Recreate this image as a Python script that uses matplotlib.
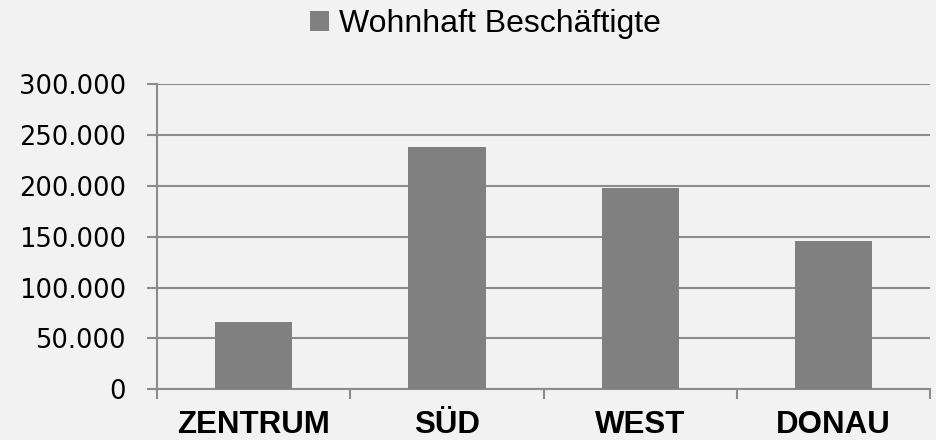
import numpy as np
import matplotlib.pyplot as plt
from matplotlib.ticker import FuncFormatter

# ===== DATEN =====
kategorien = ["ZENTRUM", "SÜD", "WEST", "DONAU"]
beschaeftigte = [66400, 238000, 197800, 145700]
serie = "Wohnhaft Beschäftigte"

bg = "#F2F2F2"
grau = "#808080"
linie = "#8C8C8C"

fig = plt.figure(figsize=(9.37, 4.40), dpi=100, facecolor=bg)
ax = fig.add_axes([0.1676, 0.1152, 0.825, 0.694], facecolor=bg)

x = np.arange(len(kategorien))
ax.bar(x, beschaeftigte, width=0.4, color=grau, zorder=3, label=serie)

ax.set_xlim(-0.5, len(kategorien) - 0.5)
ax.set_ylim(0, 300000)
ax.set_yticks(np.arange(0, 300001, 50000))
ax.yaxis.set_major_formatter(FuncFormatter(lambda v, p: f"{int(v):,}".replace(",", ".")))
ax.grid(axis="y", color=linie, linewidth=1.5, zorder=0)

# Trennstriche zwischen Kategorien, Beschriftung in der Mitte
ax.set_xticks(np.arange(len(kategorien) + 1) - 0.5)
ax.set_xticklabels([])
ax.set_xticks(x, minor=True)
ax.set_xticklabels(kategorien, minor=True, fontsize=22.5, fontweight="bold",
                   family="Liberation Sans")
ax.tick_params(axis="x", which="major", length=7.5, width=1.5, color=linie)
ax.tick_params(axis="x", which="minor", length=0, pad=15)
ax.tick_params(axis="y", length=7.5, width=1.5, color=linie, pad=15, labelsize=18.5)

for s in ["top", "right"]:
    ax.spines[s].set_visible(False)
for s in ["left", "bottom"]:
    ax.spines[s].set_color(linie)
    ax.spines[s].set_linewidth(1.5)

fig.legend(loc="center", bbox_to_anchor=(0.518, 0.945), frameon=False,
           prop={"family": "Liberation Sans", "size": 23},
           handlelength=0.6, handleheight=0.6, handletextpad=0.3)

plt.savefig("out.png", dpi=100, facecolor=bg)
